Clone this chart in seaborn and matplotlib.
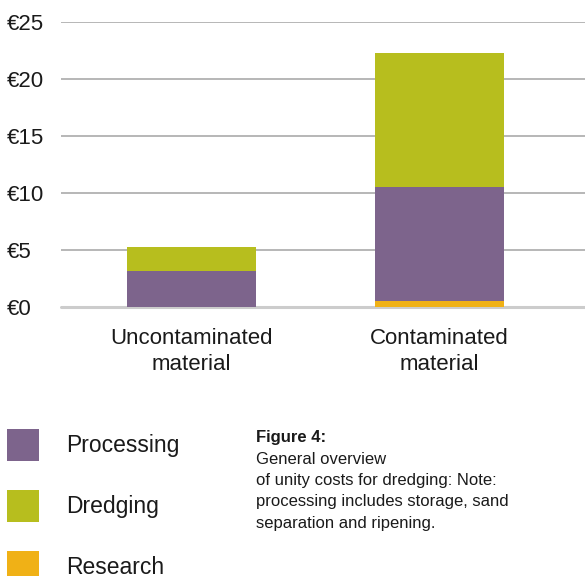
import numpy as np
import pandas as pd
import matplotlib
matplotlib.use("Agg")
import matplotlib.pyplot as plt
import seaborn as sns
from matplotlib.patches import Patch

# data (euro per unit)
categories = ["Uncontaminated\nmaterial", "Contaminated\nmaterial"]
research = [0.0, 0.5]
processing = [3.2, 10.0]
dredging = [2.05, 11.8]

colors = {"Processing": "#7D648C", "Dredging": "#B7BE1E", "Research": "#F0B116"}
yticks = [0, 5, 10, 15, 20, 25]
ytick_labels = ["€0", "€5", "€10", "€15", "€20", "€25"]
caption_title = "Figure 4:"
caption_body = ("General overview\nof unity costs for dredging: Note:\n"
                "processing includes storage, sand\nseparation and ripening.")

sns.set_style("white")
plt.rcParams["font.family"] = ["Liberation Sans", "DejaVu Sans"]

df = pd.DataFrame({"category": categories, "Research": research,
                   "Processing": processing, "Dredging": dredging})
# cumulative tops so that overlaid bars look stacked
df["top_dredging"] = df["Research"] + df["Processing"] + df["Dredging"]
df["top_processing"] = df["Research"] + df["Processing"]
df["top_research"] = df["Research"]

fig = plt.figure(figsize=(5.85, 5.76), dpi=100)
ax = fig.add_axes([61 / 585, 1 - 307 / 576, 1 - 61 / 585, (307 - 22) / 576])

for col, name in [("top_dredging", "Dredging"), ("top_processing", "Processing"),
                  ("top_research", "Research")]:
    sns.barplot(data=df, x="category", y=col, color=colors[name], width=0.52,
                saturation=1, ax=ax, zorder=3, edgecolor="none", linewidth=0)

ax.set_xlim(-0.526, 1.587)
ax.set_ylim(0, 25)
ax.set_yticks(yticks)
ax.set_yticklabels(ytick_labels)
for lbl in ax.get_yticklabels():
    lbl.set_horizontalalignment("left")
    lbl.set_verticalalignment("center_baseline")
ax.tick_params(axis="y", length=0, pad=38.9, labelsize=16, labelcolor="#1a1a1a")
ax.tick_params(axis="x", length=0, pad=15, labelsize=16, labelcolor="#1a1a1a")
for lbl in ax.get_xticklabels():
    lbl.set_linespacing(1.35)
ax.set_xlabel("")
ax.set_ylabel("")
for s in ax.spines.values():
    s.set_visible(False)
ax.yaxis.grid(True, color="#a3a3a3", linewidth=1.1, zorder=0)
ax.set_axisbelow(True)
ax.axhline(0, color="#cccccc", linewidth=2.2, zorder=2, clip_on=False)

handles = [Patch(facecolor=colors[n], edgecolor="none", label=n)
           for n in ["Processing", "Dredging", "Research"]]
fig.legend(handles=handles, loc="upper left", bbox_to_anchor=(7 / 585, 1 - 429 / 576),
           frameon=False, fontsize=16.5, handlelength=1.396, handleheight=1.771,
           handletextpad=1.18, labelspacing=1.266, borderpad=0, borderaxespad=0,
           labelcolor="#1a1a1a")

fig.text(256 / 585, 1 - 430 / 576, caption_title, fontsize=12, fontweight="bold",
         va="top", ha="left", color="#1a1a1a")
fig.text(256 / 585, 1 - 452 / 576, caption_body, fontsize=12, va="top", ha="left",
         color="#1a1a1a", linespacing=1.52)

fig.savefig("out.png", dpi=100)
